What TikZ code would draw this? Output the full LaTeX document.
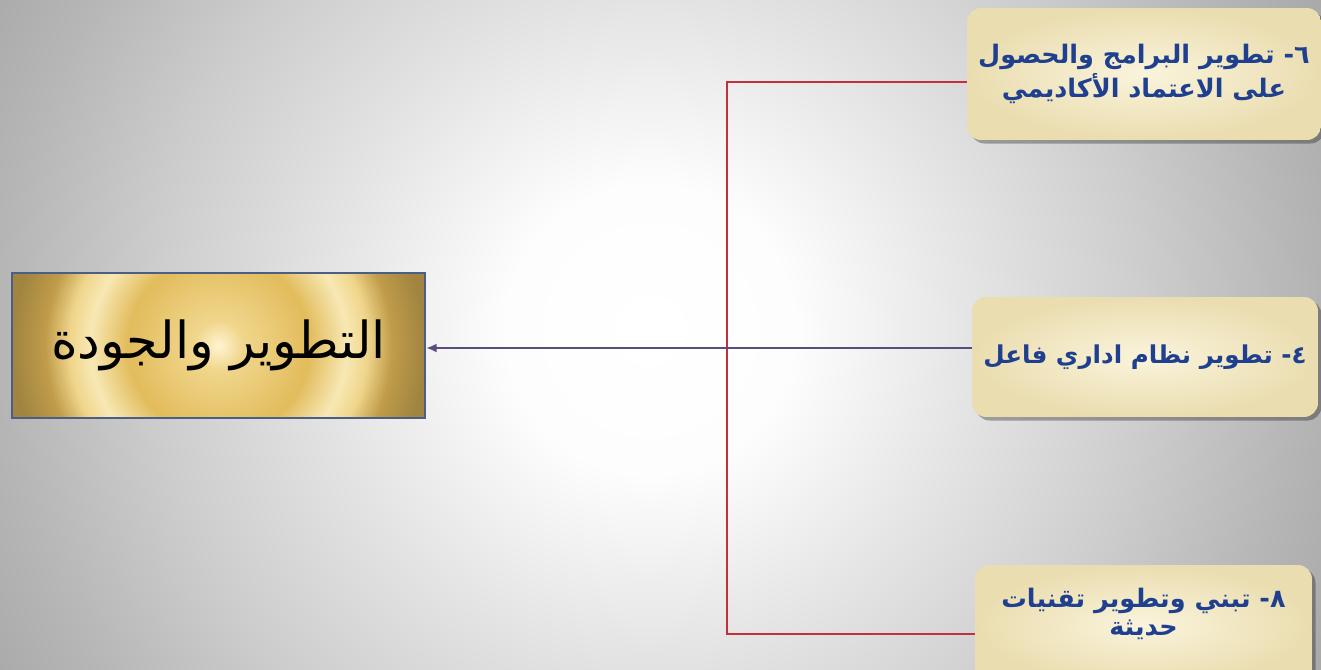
\documentclass[tikz,border=0pt]{standalone}
\usepackage{fontspec}
\usetikzlibrary{shadows,arrows.meta}
\TeXXeTstate=1
\newfontfamily\arabicfont[Script=Arabic]{DejaVu Sans}
\definecolor{bgA}{HTML}{FDFDFD}
\definecolor{bgB}{HTML}{E4E4E4}
\definecolor{bgC}{HTML}{CCCCCC}
\definecolor{bgD}{HTML}{B6B6B6}
\definecolor{bgE}{HTML}{A8A8A8}
\definecolor{goldA}{HTML}{FFF4D2}
\definecolor{goldB}{HTML}{F0D68C}
\definecolor{goldC}{HTML}{E2BC5C}
\definecolor{goldR}{HTML}{F7E8B4}
\definecolor{goldE}{HTML}{C09C4A}
\definecolor{goldD}{HTML}{A08440}
\definecolor{mainborder}{HTML}{4A5E88}
\definecolor{creamA}{HTML}{FAF4DC}
\definecolor{creamB}{HTML}{EADDB0}
\definecolor{txtblue}{HTML}{1F3F8F}
\definecolor{linered}{HTML}{C3303C}
\definecolor{linepurple}{HTML}{5A4C7C}
\pgfdeclareradialshading{bgshade}{\pgfpoint{0bp}{0bp}}{color(0bp)=(white); color(4bp)=(bgA); color(9bp)=(bgB); color(14bp)=(bgC); color(18bp)=(bgD); color(21bp)=(bgE); color(50bp)=(bgE)}
\pgfdeclareradialshading{goldshade}{\pgfpoint{0bp}{0bp}}{color(0bp)=(goldA); color(3bp)=(goldB); color(11bp)=(goldC); color(15.5bp)=(goldR); color(18bp)=(goldB); color(21bp)=(goldE); color(25bp)=(goldD); color(50bp)=(goldD)}
\tikzset{
  mainbox/.style={draw=mainborder, line width=1.2pt, fill=goldD,
    minimum width=8.26cm, minimum height=2.9cm, inner sep=0pt,
    font=\arabicfont\fontsize{29}{34}\selectfont, text=black,
    path picture={\shade[shading=goldshade] (path picture bounding box.center) circle (206);}},
  sidebox/.style={rounded corners=8pt, inner color=creamA, outer color=creamB,
    drop shadow={shadow xshift=2pt, shadow yshift=-2pt, opacity=0.3, fill=black},
    inner sep=0pt, align=center, text=txtblue,
    font=\arabicfont\bfseries\fontsize{14.5}{19}\selectfont},
  boxtext/.style={align=center, text=txtblue, inner sep=0pt,
    font=\arabicfont\bfseries\fontsize{14.5}{16}\selectfont},
  redline/.style={draw=linered, line width=1.3pt},
  purpleline/.style={draw=linepurple, line width=1.3pt}
}
\begin{document}
\begin{tikzpicture}[x=0.02cm, y=-0.02cm]
\useasboundingbox (0,0) rectangle (1321,669);
\clip (0,0) rectangle (1321,669);
\fill[bgE] (-10,-10) rectangle (1331,679);
\shade[shading=bgshade] (650,330) circle (900);
% nodes
\node[mainbox] (main) at (218.5,345.5) {\beginR التطوير والجودة\endR};
\node[sidebox, minimum width=7.08cm, minimum height=2.64cm] (b6) at (1144,74)
  {\beginR ٦- تطوير البرامج والحصول\endR\\\beginR على الاعتماد الأكاديمي\endR};
\node[sidebox, minimum width=6.92cm, minimum height=2.4cm, font=\arabicfont\bfseries\fontsize{14}{19}\selectfont] (b4) at (1145,357)
  {\beginR ٤- تطوير نظام اداري فاعل\endR};
\node[sidebox, minimum width=6.74cm, minimum height=2.4cm] (b8) at (1143.5,625) {};
\node[boxtext] (t8) at (1143.5,614)
  {\beginR ٨- تبني وتطوير تقنيات\endR\\\beginR حديثة\endR};
% connectors
\coordinate (jt) at (727,82);
\coordinate (jb) at (727,634);
\draw[redline] (b6.west |- jt) -- (jt) -- (jb) -- (b8.west |- jb);
\draw[purpleline, -{Latex[length=6pt,width=5pt]}] (b4.west |- 0,348) -- (main.east |- 0,348);
\end{tikzpicture}
\end{document}
